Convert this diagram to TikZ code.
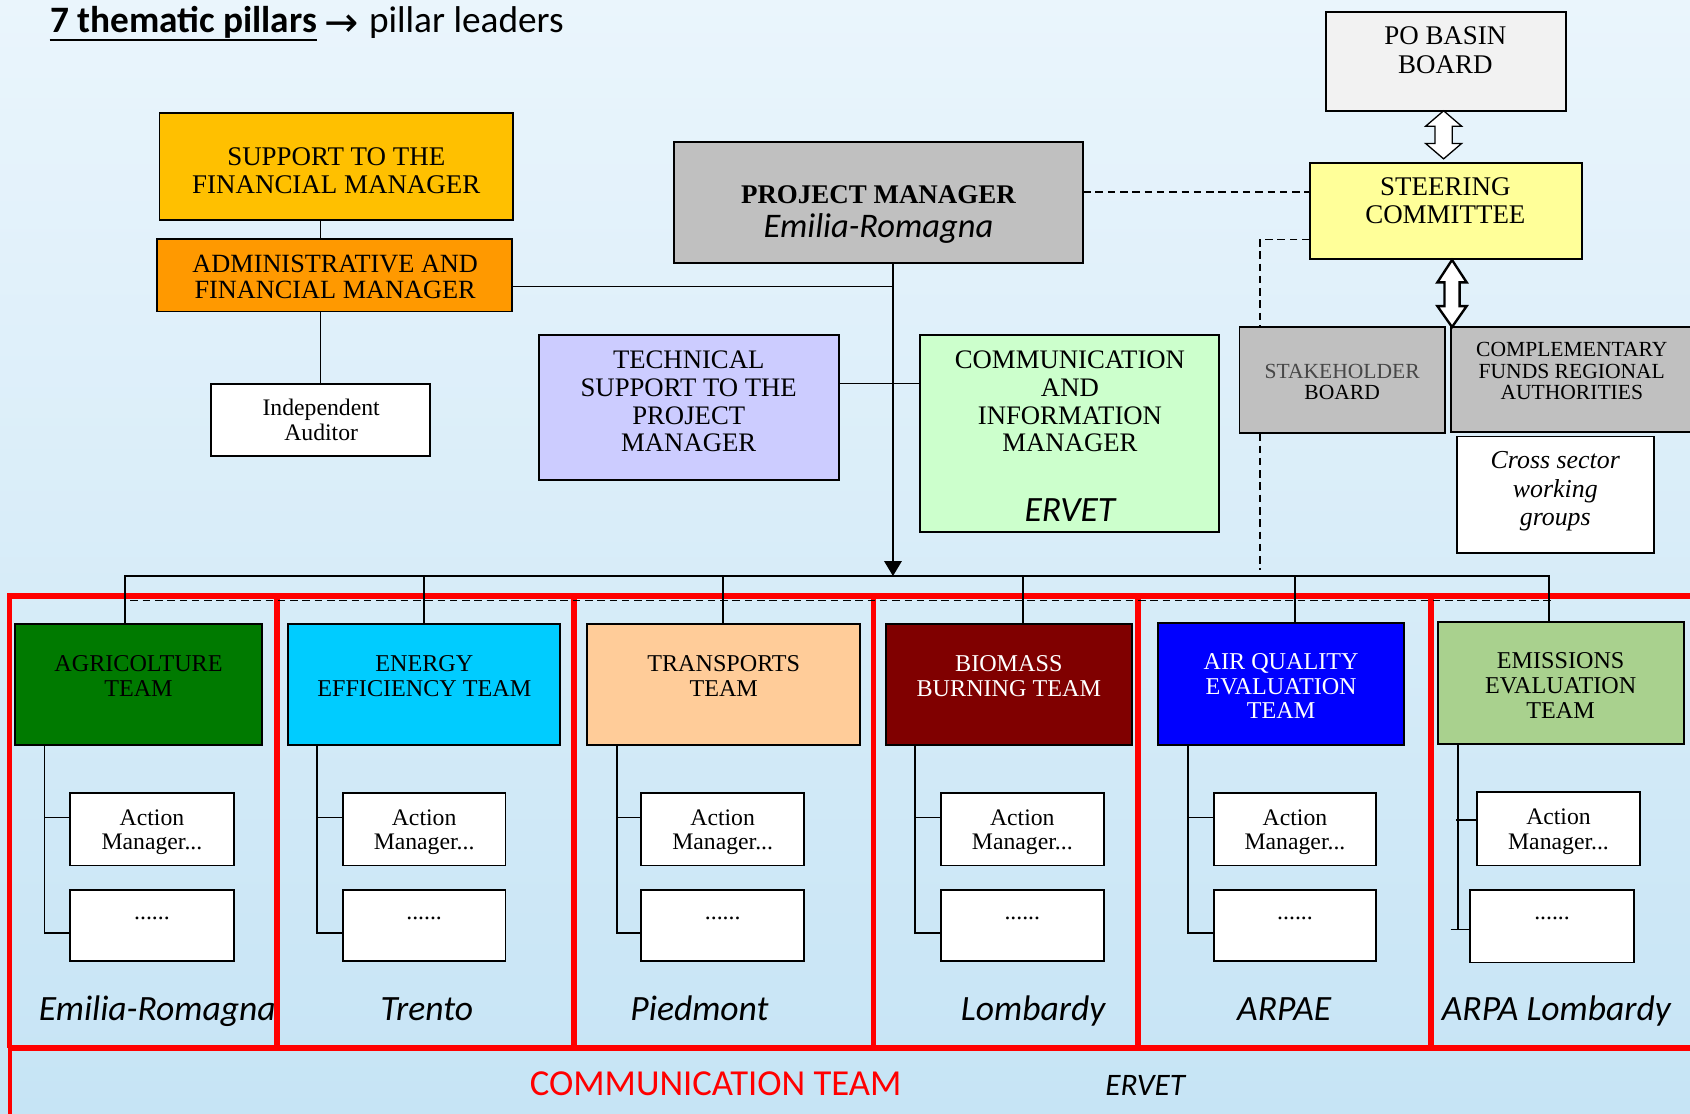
\documentclass[tikz,border=0pt]{standalone}
\usepackage{fontspec}
\setmainfont{Liberation Serif}
\newfontfamily\calib{Carlito}
\newfontfamily\djv{DejaVu Sans}
\usetikzlibrary{arrows.meta,calc}
\definecolor{bgtop}{HTML}{EAF5FC}
\definecolor{bgbot}{HTML}{C6E4F5}
\definecolor{supc}{HTML}{FFC000}
\definecolor{admc}{HTML}{FF9900}
\definecolor{pmgray}{HTML}{C0C0C0}
\definecolor{techc}{HTML}{CCCCFF}
\definecolor{commc}{HTML}{CCFFCC}
\definecolor{pogray}{HTML}{F2F2F2}
\definecolor{steerc}{HTML}{FFFF99}
\definecolor{agric}{HTML}{007A00}
\definecolor{enc}{HTML}{00CCFF}
\definecolor{trc}{HTML}{FFCC99}
\definecolor{bioc}{HTML}{800000}
\definecolor{airc}{HTML}{0000FF}
\definecolor{emc}{HTML}{A9D18E}
\newcommand\mkbox[6]{\node[box,#6,minimum width={(#4-#2)*0.5pt},minimum height={(#5-#3)*0.5pt}] (#1) at ({(#2+#4)/2},{(#3+#5)/2}) {};}
\begin{document}
\begin{tikzpicture}[x=0.5pt,y=-0.5pt,
  box/.style={draw=black,line width=0.9pt,inner sep=0pt,outer sep=0pt},
  conn/.style={draw=black,line width=0.7pt},
  dsh/.style={draw=black,line width=0.7pt,dash pattern=on 3.5pt off 2.2pt},
  txt/.style={align=center,inner sep=0pt,outer sep=0pt},
  redl/.style={draw=red,line width=2.5pt},
  ttl/.style={txt,font={\fontsize{12.4}{12.9}\selectfont}},
  tteam/.style={txt,font={\fontsize{11.2}{11.5}\selectfont}},
  tact/.style={txt,font={\fontsize{11}{11.3}\selectfont}},
  tsmall/.style={txt,font={\fontsize{10}{10}\selectfont}},
  tcal/.style={inner sep=0pt,outer sep=0pt,font={\calib\itshape\fontsize{16.5}{18}\selectfont}}
]
% background
\fill[top color=bgtop,bottom color=bgbot] (0,0) rectangle (1568,1033);
\useasboundingbox (0,0) rectangle (1568,1033);
\clip (0,0) rectangle (1568,1033);

% title
\node[inner sep=0pt,anchor=base west,font={\calib\bfseries\fontsize{17.3}{20}\selectfont}] (title1) at (46,30.5) {7 thematic pillars};
\draw[line width=1.1pt] ($(title1.base west)+(0,6.5)$) -- ($(title1.base east)+(0,6.5)$);
\node[inner sep=0pt,anchor=base west,font={\djv\fontsize{19}{22}\selectfont}] (tarrow) at (301,33.5) {→};
\node[inner sep=0pt,anchor=base west,font={\calib\fontsize{17.3}{20}\selectfont}] (title2) at (342,30.5) {pillar leaders};

% bottom labels (under the red frame)
\node[tcal,anchor=base west] (lab1) at (36,946.5) {Emilia-Romagna};
\node[tcal,anchor=base] (lab2) at (396,946.5) {Trento};
\node[tcal,anchor=base] (lab3) at (649,946.5) {Piedmont};
\node[tcal,anchor=base] (lab4) at (958.5,946.5) {Lombardy};
\node[tcal,anchor=base] (lab5) at (1191.5,946.5) {ARPAE};
\node[tcal,anchor=base] (lab6) at (1444,946.5) {ARPA Lombardy};
\node[inner sep=0pt,anchor=base,text=red,font={\calib\fontsize{17}{20}\selectfont}] (commteam) at (664,1016) {COMMUNICATION TEAM};
\node[inner sep=0pt,anchor=base,font={\calib\itshape\fontsize{14.5}{16}\selectfont}] (ervet2) at (1062.5,1016) {ERVET};

% red frame
\draw[redl] (1580,553) -- (9,553) -- (9,972.5);
\draw[draw=red,line width=1.8pt] (9,972.5) -- (9,1040);
\draw[redl] (9,972.5) -- (1580,972.5);
\foreach \xx in {257,532.5,810.5,1056,1327.5} {\draw[redl] (\xx,553) -- (\xx,972.5);}

% upper boxes
\mkbox{sup}{148}{105}{476}{204}{fill=supc}
\mkbox{adm}{146}{222}{475}{289}{fill=admc}
\mkbox{aud}{196}{356}{399}{423}{fill=white}
\mkbox{pm}{625}{132}{1005}{244}{fill=pmgray}
\mkbox{tech}{500}{311}{778}{445}{fill=techc}
\mkbox{comm}{854}{311}{1131}{494}{fill=commc}
\mkbox{po}{1230}{11}{1453}{103}{fill=pogray}
\mkbox{steer}{1215}{151}{1468}{240}{fill=steerc}
\mkbox{stake}{1150}{303}{1341}{402}{fill=pmgray}
\mkbox{compl}{1346}{303}{1590}{401}{fill=pmgray}
\mkbox{cross}{1352}{405}{1535}{513}{fill=white}

\node[ttl,font={\fontsize{12.5}{12.85}\selectfont}] (supt) at (312,158.3) {SUPPORT TO THE\\FINANCIAL MANAGER};
\node[ttl,font={\fontsize{12.2}{12.35}\selectfont}] (admt) at (311,256.8) {ADMINISTRATIVE AND\\FINANCIAL MANAGER};
\node[txt,font={\fontsize{11}{11.9}\selectfont}] (audt) at (298,389.5) {Independent\\Auditor};
\node[txt,font={\bfseries\fontsize{12.5}{13}\selectfont}] (pmt1) at (815,181) {PROJECT MANAGER};
\node[txt,font={\calib\itshape\fontsize{16}{18}\selectfont}] (pmt2) at (815,212) {Emilia-Romagna};
\node[ttl] (techt) at (639,372.4) {TECHNICAL\\SUPPORT TO THE\\PROJECT\\MANAGER};
\node[ttl] (commt) at (992.7,372.4) {COMMUNICATION\\AND\\INFORMATION\\MANAGER};
\node[txt,font={\calib\itshape\fontsize{16.5}{18}\selectfont}] (commt2) at (992.7,473.3) {ERVET};
\node[txt,font={\fontsize{12.5}{13.3}\selectfont}] (pot) at (1341,46.6) {PO BASIN\\BOARD};
\node[txt,font={\fontsize{12.5}{13.3}\selectfont}] (steert) at (1341,186.3) {STEERING\\COMMITTEE};
\node[tsmall] (staket) at (1245.3,354.2) {\textcolor{black!72}{STAKEHOLDER}\\BOARD};
\node[tsmall] (complt) at (1458.3,344.2) {COMPLEMENTARY\\FUNDS REGIONAL\\AUTHORITIES};
\node[txt,font={\itshape\fontsize{12}{13.3}\selectfont}] (crosst) at (1443,456) {Cross sector\\working\\groups};

% hollow double arrows
\draw[fill=white,line width=0.6pt] (1339.4,102.8) -- (1356.1,117.1) -- (1347.4,117.1) -- (1347.4,133.1) -- (1356.1,133.1) -- (1339.4,147.4) -- (1322.7,133.1) -- (1331.4,133.1) -- (1331.4,117.1) -- (1322.7,117.1) -- cycle;
\draw[fill=white,line width=1.1pt,line join=miter] (1347.2,241.2) -- (1360.8,262) -- (1354.2,262) -- (1354.2,284) -- (1360.8,284) -- (1347.2,303.4) -- (1333.6,284) -- (1340.2,284) -- (1340.2,262) -- (1333.6,262) -- cycle;

% upper connectors
\draw[conn] (sup.south -| aud.north) -- (adm.north -| aud.north);
\draw[conn] (adm.south -| aud.north) -- (aud.north);
\coordinate (pmv) at (828.5,266);
\draw[conn] (adm.east |- pmv) -- (pmv);
\coordinate (tc) at (700,355.7);
\draw[conn] (tech.east |- tc) -- (comm.west |- tc);
\coordinate (pmbus) at (828.5,534.5);
\draw[line width=1.2pt,-{Triangle[length=7pt,width=8pt]}] (pm.south -| pmbus) -- (pmbus);
\coordinate (dy1) at (1100,178);
\draw[dsh] (pm.east |- dy1) -- (steer.west |- dy1);
\coordinate (dy2) at (1169,222.2);
\draw[dsh] (steer.west |- dy2) -- (dy2) -- (dy2 |- stake.north);
\coordinate (dend) at (1169,529);
\draw[dsh] (dend |- stake.south) -- (dend);

% team boxes
\mkbox{t1}{14}{579}{243}{691}{fill=agric}
\mkbox{t2}{267}{579}{520}{691}{fill=enc}
\mkbox{t3}{545}{579}{798}{691}{fill=trc}
\mkbox{t4}{822}{579}{1050}{691}{fill=bioc}
\mkbox{t5}{1074}{578}{1303}{691}{fill=airc}
\mkbox{t6}{1334}{577}{1562}{690}{fill=emc}
\node[tteam] (tt1) at (128.5,627.2) {AGRICOLTURE\\TEAM};
\node[tteam] (tt2) at (393.7,627.2) {ENERGY\\EFFICIENCY TEAM};
\node[tteam] (tt3) at (671.5,627) {TRANSPORTS\\TEAM};
\node[tteam,text=white] (tt4) at (936,627) {BIOMASS\\BURNING TEAM};
\node[tteam,text=white] (tt5) at (1188.6,636.5) {AIR QUALITY\\EVALUATION\\TEAM};
\node[tteam] (tt6) at (1448,636) {EMISSIONS\\EVALUATION\\TEAM};

% bus
\coordinate (b1) at (116,534.5);
\coordinate (b2) at (393.5,534.5);
\coordinate (b3) at (671,534.5);
\coordinate (b4) at (949,534.5);
\coordinate (b5) at (1201.5,534.5);
\coordinate (b6) at (1437,534.5);
\draw[conn] (b1 |- t1.north) -- (b1) -- (b6) -- (b6 |- t6.north);
\foreach \i in {2,3,4,5} {\draw[conn] (b\i) -- (b\i |- t\i.north);}
\coordinate (ds1) at (121,557.2);
\coordinate (ds2) at (1443,557.2);
\draw[dsh] (ds1) -- (ds2);

% action boxes
\mkbox{a1}{65}{736}{217}{803}{fill=white}
\mkbox{d1}{65}{826}{217}{892}{fill=white}
\mkbox{a2}{318}{736}{469}{803}{fill=white}
\mkbox{d2}{318}{826}{469}{892}{fill=white}
\mkbox{a3}{595}{736}{746}{803}{fill=white}
\mkbox{d3}{595}{826}{746}{892}{fill=white}
\mkbox{a4}{873}{736}{1024}{803}{fill=white}
\mkbox{d4}{873}{826}{1024}{892}{fill=white}
\mkbox{a5}{1126}{736}{1277}{803}{fill=white}
\mkbox{d5}{1126}{826}{1277}{892}{fill=white}
\mkbox{a6}{1370}{735}{1522}{803}{fill=white}
\mkbox{d6}{1364}{826}{1516}{893}{fill=white}
\foreach \i in {1,...,6} {
  \node[tact] (at\i) at ($(a\i.north)!0.5!(a\i.south)+(0,2.5)$) {Action\\Manager...};
  \node[tact,anchor=base] (dt\i) at ($(d\i.north)+(0,27)$) {......};
}
\coordinate (yA) at (0,758.5);
\coordinate (yD) at (0,865.5);
\foreach \i/\off in {1/27.3,2/26.9,3/27.4,4/27,5/28} {
  \coordinate (v\i) at ($(t\i.south west)+(\off,0)$);
  \draw[conn] (v\i) -- (v\i |- yD) -- (d\i.west |- yD);
  \draw[conn] (v\i |- yA) -- (a\i.west |- yA);
}
\coordinate (v6) at (1352.5,690);
\coordinate (yA6) at (1350.7,760.6);
\coordinate (yD6) at (1346,862.4);
\draw[conn,line width=0.9pt] (v6) -- (v6 |- yD6);
\draw[conn,line width=1.1pt] (yA6) -- (a6.west |- yA6);
\draw[conn,line width=0.9pt] (yD6) -- (d6.west |- yD6);
\end{tikzpicture}
\end{document}
